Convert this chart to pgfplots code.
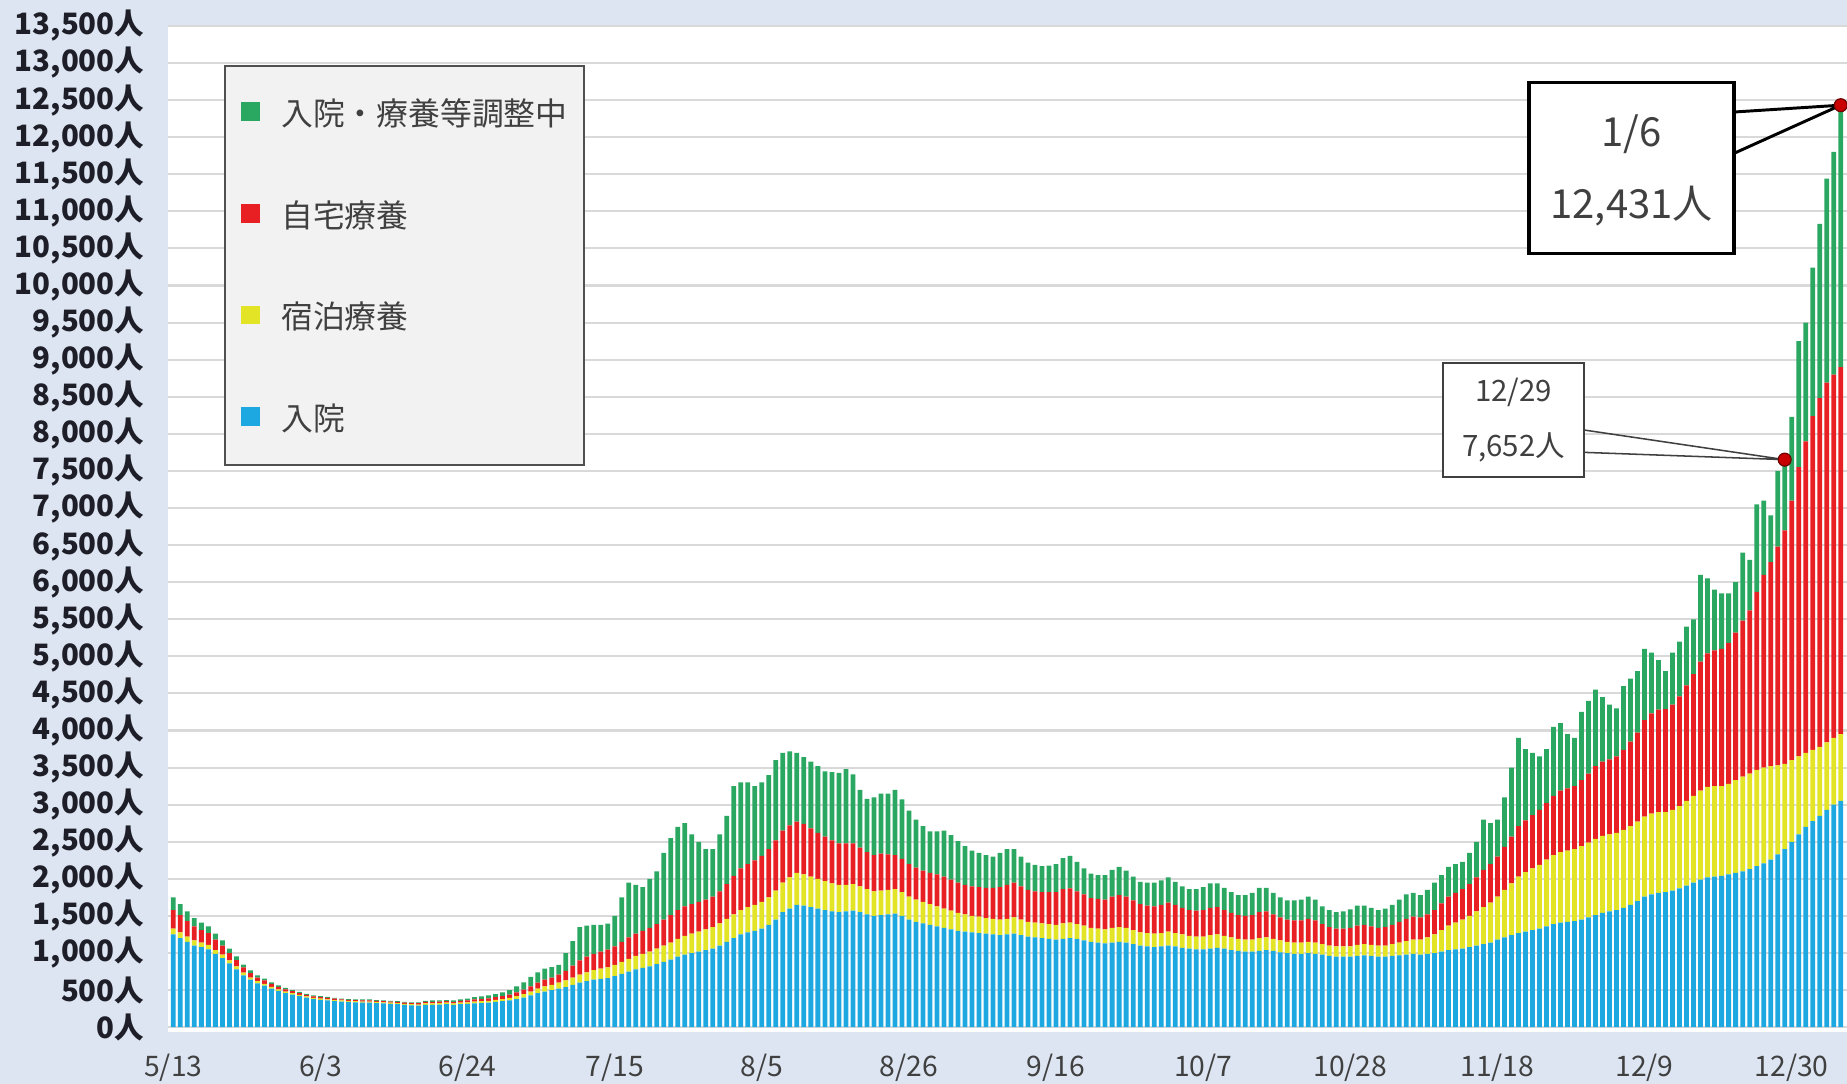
\documentclass[border=0pt]{standalone}
\usepackage{fontspec}
\setmainfont{Noto Sans CJK JP}
\usepackage{pgfplots}
\usepackage{pgfplotstable}
\pgfplotsset{compat=1.18}
\definecolor{bgc}{RGB}{220,229,241}
\definecolor{gridc}{RGB}{217,217,217}
\definecolor{cblue}{RGB}{30,168,225}
\definecolor{cyellow}{RGB}{228,228,38}
\definecolor{cred}{RGB}{232,32,36}
\definecolor{cgreen}{RGB}{42,168,98}
\definecolor{legfill}{RGB}{242,242,242}
\definecolor{legdraw}{RGB}{80,80,80}
\definecolor{txtg}{RGB}{64,64,64}
\definecolor{tickc}{RGB}{30,30,40}
\definecolor{dotred}{RGB}{200,0,0}
\definecolor{dotdark}{RGB}{110,0,0}
\pgfplotsset{sqleg/.style={legend image code/.code={\fill[##1] (0pt,-7pt) rectangle (16pt,9pt);}}}
\pgfplotstableread{
i b y r g
0 1250 80 250 170
1 1200 80 230 150
2 1150 70 210 130
3 1100 70 190 110
4 1080 60 170 100
5 1050 60 160 90
6 990 50 140 80
7 930 50 120 70
8 860 40 100 60
9 780 40 85 50
10 700 35 70 40
11 640 30 60 35
12 590 30 50 30
13 560 25 45 25
14 520 25 40 20
15 490 20 35 20
16 460 20 30 20
17 440 20 25 15
18 420 15 25 15
19 400 15 20 15
20 380 15 20 15
21 370 15 20 15
22 360 15 20 15
23 350 15 20 10
24 345 15 15 10
25 340 15 15 10
26 335 15 15 10
27 330 15 15 15
28 330 15 15 15
29 325 15 15 10
30 320 15 15 10
31 315 15 15 10
32 310 15 15 10
33 300 15 15 10
34 295 15 15 10
35 290 15 20 10
36 300 20 20 15
37 300 20 20 20
38 305 20 20 15
39 310 20 20 15
40 300 20 20 20
41 310 20 25 20
42 315 20 25 25
43 320 25 30 30
44 325 25 30 35
45 330 25 35 40
46 340 30 35 40
47 350 30 40 50
48 360 35 45 60
49 380 40 50 80
50 400 45 60 100
51 430 50 70 130
52 460 60 80 140
53 480 70 90 150
54 500 70 100 140
55 520 80 110 130
56 540 90 130 240
57 570 100 160 330
58 600 110 190 450
59 620 120 210 420
60 640 130 220 390
61 650 140 230 360
62 660 145 240 350
63 690 150 250 410
64 720 160 270 600
65 750 170 290 740
66 780 180 300 660
67 800 190 310 590
68 820 200 320 660
69 850 210 330 710
70 880 220 350 900
71 910 230 370 1040
72 950 240 390 1120
73 980 250 400 1120
74 1000 260 400 940
75 1020 270 400 810
76 1040 280 400 680
77 1060 290 410 640
78 1100 300 430 770
79 1150 310 470 920
80 1200 320 520 1210
81 1250 330 560 1160
82 1280 340 580 1100
83 1300 350 600 1000
84 1330 360 620 990
85 1380 370 650 1000
86 1450 390 680 1080
87 1550 400 700 1050
88 1600 420 700 1000
89 1650 430 690 930
90 1640 420 680 900
91 1620 410 650 900
92 1600 400 620 900
93 1580 390 600 880
94 1560 380 580 920
95 1550 370 560 950
96 1560 360 560 1000
97 1570 360 550 930
98 1550 350 520 780
99 1520 340 500 720
100 1500 330 490 780
101 1510 330 500 810
102 1520 330 480 820
103 1530 330 460 880
104 1500 320 450 800
105 1450 310 440 720
106 1420 300 430 650
107 1400 290 420 600
108 1380 280 420 560
109 1360 270 430 580
110 1340 260 430 620
111 1320 250 420 600
112 1300 240 410 560
113 1290 230 400 520
114 1280 220 400 480
115 1270 220 400 460
116 1260 210 410 440
117 1250 210 420 420
118 1240 210 440 460
119 1250 210 460 480
120 1260 220 470 450
121 1240 210 450 400
122 1220 200 430 370
123 1210 200 420 360
124 1200 200 420 350
125 1190 200 430 360
126 1180 200 440 380
127 1190 210 460 420
128 1200 210 460 440
129 1190 200 440 400
130 1170 200 420 350
131 1150 190 400 330
132 1140 190 400 320
133 1130 190 400 330
134 1140 200 420 360
135 1150 200 430 380
136 1140 200 420 350
137 1120 190 400 320
138 1100 180 380 300
139 1090 180 370 310
140 1080 180 370 320
141 1090 180 380 330
142 1100 190 390 340
143 1090 180 380 310
144 1070 180 360 290
145 1060 170 350 280
146 1050 170 350 290
147 1050 170 360 310
148 1060 180 370 330
149 1070 180 370 320
150 1060 170 350 300
151 1040 170 330 280
152 1030 160 320 270
153 1020 160 320 280
154 1020 160 330 300
155 1030 170 350 330
156 1040 170 350 320
157 1030 160 330 290
158 1010 160 310 270
159 1000 150 300 260
160 990 150 300 270
161 990 150 300 280
162 1000 150 310 300
163 990 150 300 280
164 980 140 270 240
165 960 140 250 230
166 950 140 240 220
167 950 140 240 230
168 950 140 250 250
169 960 150 260 270
170 970 150 260 260
171 960 150 250 250
172 950 150 240 240
173 950 150 250 250
174 960 160 260 270
175 970 170 280 300
176 980 180 300 330
177 990 190 310 320
178 980 200 300 300
179 990 220 310 330
180 1000 250 330 370
181 1020 290 360 380
182 1040 330 390 400
183 1050 360 400 390
184 1060 390 410 370
185 1080 420 430 420
186 1100 460 460 480
187 1120 500 500 680
188 1140 540 520 550
189 1180 580 540 500
190 1210 640 580 670
191 1240 700 630 930
192 1270 760 680 1190
193 1290 800 700 960
194 1310 830 720 840
195 1330 860 740 720
196 1360 900 760 730
197 1390 930 800 930
198 1410 950 830 910
199 1420 960 840 730
200 1430 970 850 650
201 1450 990 890 920
202 1480 1010 930 980
203 1510 1030 980 1030
204 1540 1040 1000 870
205 1560 1040 1010 740
206 1580 1040 1030 650
207 1610 1050 1080 860
208 1650 1060 1140 850
209 1700 1070 1200 830
210 1760 1080 1300 960
211 1790 1090 1350 820
212 1810 1090 1380 670
213 1820 1080 1390 510
214 1840 1090 1420 700
215 1870 1110 1480 740
216 1910 1140 1560 790
217 1950 1170 1640 740
218 1990 1200 1740 1170
219 2020 1220 1800 1010
220 2030 1220 1830 820
221 2040 1210 1850 750
222 2060 1220 1900 670
223 2080 1250 1990 680
224 2100 1280 2100 920
225 2130 1290 2200 680
226 2170 1300 2400 1180
227 2210 1290 2600 1000
228 2260 1260 2750 630
229 2330 1200 2950 1020
230 2400 1150 3150 952
231 2500 1100 3500 1130
232 2600 1050 3900 1700
233 2700 1000 4200 1600
234 2780 960 4500 2000
235 2850 930 4700 2350
236 2930 910 4850 2750
237 3000 900 4900 3000
238 3050 900 4950 3531
}\datatable
\begin{document}
\begin{tikzpicture}[x=1pt,y=1pt]
\useasboundingbox (-143,-44) rectangle (1425,876);
\fill[bgc] (-143,-44) rectangle (1425,876);
\begin{axis}[
  at={(0,0)}, anchor=south west, scale only axis,
  width=1425pt, height=854pt,
  xmin=-0.7, xmax=238.9, ymin=-63, ymax=13500,
  enlargelimits=false,
  ybar stacked, bar width=0.68,
  axis background/.style={fill=white},
  axis line style={draw=none}, tick style={draw=none},
  ymajorgrids, grid style={color=gridc, line width=1.8pt},
  scaled y ticks=false,
  ytick={0,500,...,13500},
  yticklabel={\pgfmathprintnumber{\tick}人},
  yticklabel style={/pgf/number format/1000 sep={,}, /pgf/number format/assume math mode=true,
     font=\bfseries\fontsize{25}{27}\selectfont, text=tickc, xshift=-17pt},
  xtick={0,21,...,231},
  xticklabels={5/13,6/3,6/24,7/15,8/5,8/26,9/16,10/7,10/28,11/18,12/9,12/30},
  xticklabel style={font=\fontsize{24}{26}\selectfont, text=txtg, yshift=-15pt},
  reverse legend,
  legend style={at={(0.033,0.9614)}, anchor=north west, fill=legfill, draw=legdraw,
     line width=1.5pt, font=\fontsize{27}{30}\selectfont, text=txtg,
     row sep=62pt, column sep=18pt, inner xsep=14pt, inner ysep=28pt,
     nodes={inner sep=0pt}},
  legend cell align=left,
]
\addplot[fill=cblue, draw=none, sqleg] table[x=i, y=b] {\datatable};
\addlegendentry{入院}
\addplot[fill=cyellow, draw=none, sqleg] table[x=i, y=y] {\datatable};
\addlegendentry{宿泊療養}
\addplot[fill=cred, draw=none, sqleg] table[x=i, y=r] {\datatable};
\addlegendentry{自宅療養}
\addplot[fill=cgreen, draw=none, sqleg] table[x=i, y=g] {\datatable};
\addlegendentry{入院・療養等調整中}
\end{axis}
\begin{axis}[
  at={(0,0)}, anchor=south west, scale only axis,
  width=1425pt, height=854pt,
  xmin=-0.7, xmax=238.9, ymin=-63, ymax=13500,
  hide axis, clip=false,
]
\draw[line width=1.3pt, color=txtg] (axis cs:201.4,8051) -- (axis cs:230,7652) -- (axis cs:201.4,7750);
\node[draw=txtg, line width=1.5pt, fill=white, minimum width=120pt, minimum height=97pt, inner sep=0pt] at (axis cs:191.3,8186) {};
\node[text=txtg, font=\fontsize{25}{27}\selectfont] at (axis cs:191.3,8559) {12/29};
\node[text=txtg, font=\fontsize{25}{27}\selectfont] at (axis cs:191.3,7813) {7,652人};
\draw[line width=2.5pt, black] (axis cs:222.8,12339) -- (axis cs:238,12431) -- (axis cs:222.8,11783);
\node[draw=black, line width=3pt, fill=white, minimum width=174pt, minimum height=145pt, inner sep=0pt] at (axis cs:208.15,11585) {};
\node[text=txtg, font=\fontsize{34}{36}\selectfont] at (axis cs:208.15,12040) {1/6};
\node[text=txtg, font=\fontsize{34}{36}\selectfont] at (axis cs:208.15,11070) {12,431人};
\addplot[only marks, mark=*, mark size=5.5pt, mark options={fill=dotred, draw=dotdark, line width=1pt}] coordinates {(230,7652) (238,12431)};
\end{axis}
\end{tikzpicture}
\end{document}
